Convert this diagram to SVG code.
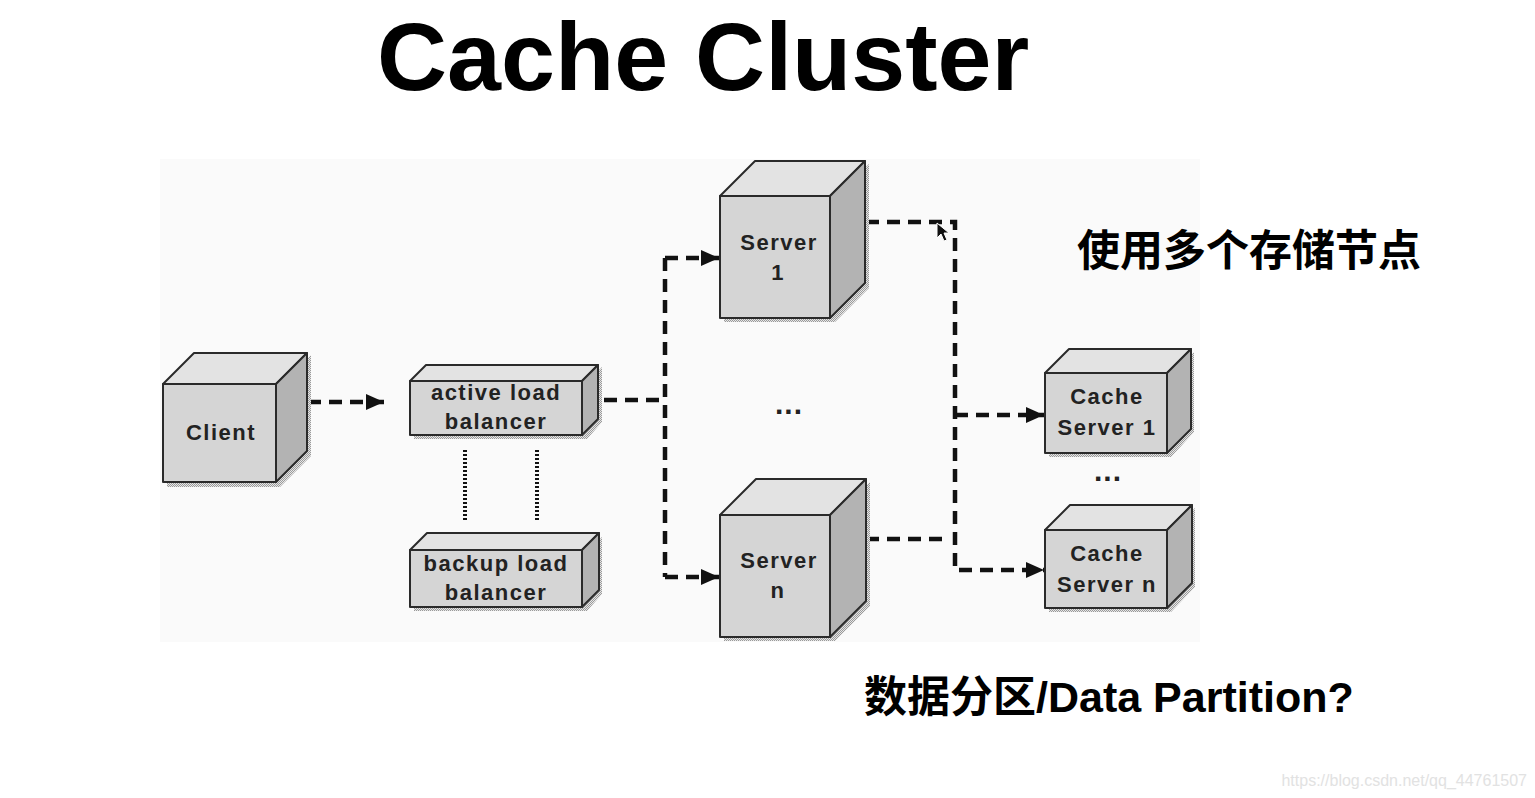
<svg xmlns="http://www.w3.org/2000/svg" width="1535" height="798" viewBox="0 0 1535 798">
<defs>
<pattern id="stip" width="2" height="2" patternUnits="userSpaceOnUse"><rect width="2" height="2" fill="#e6e6e6"/><rect width="1" height="1" fill="#9a9a9a"/><rect x="1" y="1" width="1" height="1" fill="#9a9a9a"/></pattern>
<marker id="ah" markerUnits="userSpaceOnUse" markerWidth="18" markerHeight="18" viewBox="0 0 18 18" refX="18" refY="9" orient="auto"><path d="M0,1 L18,9 L0,17 Z" fill="#111"/></marker>
<style>
.front{fill:#d5d5d5;stroke:#2a2a2a;stroke-width:2;stroke-linejoin:round}
.top{fill:#e3e3e3;stroke:#2a2a2a;stroke-width:2;stroke-linejoin:round}
.right{fill:#b3b3b3;stroke:#2a2a2a;stroke-width:2;stroke-linejoin:round}
.shadow{fill:url(#stip)}
.lbl{font-family:"Liberation Sans",Arial,sans-serif;font-weight:700;font-size:22px;fill:#222;text-anchor:middle;letter-spacing:1.5px}
.ell{font-family:"Liberation Sans",Arial,sans-serif;font-weight:700;font-size:30px;fill:#222;text-anchor:middle;letter-spacing:1px}
.dash{fill:none;stroke:#111;stroke-width:4.5;stroke-dasharray:13 8}
.dot{fill:none;stroke:#111;stroke-width:4;stroke-dasharray:2 2}
.big{font-family:"Liberation Sans","Noto Sans CJK SC",sans-serif;font-weight:700;fill:#000}
</style>
</defs>
<rect x="0" y="0" width="1535" height="798" fill="#ffffff"/>
<rect x="160" y="159" width="1040" height="483" fill="#fafafa"/>
<text class="big" x="377" y="90" font-size="97">Cache Cluster</text>
<text class="big" x="1077" y="266" font-size="43">使用多个存储节点</text>
<text class="big" x="864" y="712" font-size="43">数据分区/Data Partition?</text>
<text x="1527" y="786" font-family="Liberation Sans,Arial,sans-serif" font-size="16" fill="#e2e2e2" text-anchor="end">https://blog.csdn.net/qq_44761507</text>

<g id="connectors">
<path class="dash" d="M308,402 H384" marker-end="url(#ah)"/>
<path class="dash" d="M583,400 H665"/>
<path class="dash" d="M665,258 V577"/>
<path class="dash" d="M665,258 H719" marker-end="url(#ah)"/>
<path class="dash" d="M665,577 H719" marker-end="url(#ah)"/>
<path class="dot" d="M465,450 V522"/>
<path class="dot" d="M537,450 V522"/>
<path class="dash" d="M866,222 H955 V570 H1044" marker-end="url(#ah)"/>
<path class="dash" d="M866,539 H950"/>
<path class="dash" d="M955,415 H1044" marker-end="url(#ah)"/>
</g>

<g id="client">
<polygon class="shadow" points="277,389 311,355 311,456 280,487 167,487 167,483 276,483"/>
<rect class="front" x="163" y="384" width="113" height="98"/>
<polygon class="top" points="163,384 194,353 307,353 276,384"/>
<polygon class="right" points="276,384 307,353 307,451 276,482"/>
<text class="lbl" x="221" y="440">Client</text>
</g>

<g id="active-lb">
<polygon class="shadow" points="583,386 602,367 602,422 587,439 414,439 414,436 582,436"/>
<rect class="front" x="410" y="381" width="172" height="54"/>
<polygon class="top" points="410,381 426,365 598,365 582,381"/>
<polygon class="right" points="582,381 598,365 598,419 582,435"/>
<text class="lbl" x="496" y="400">active load</text>
<text class="lbl" x="496" y="429">balancer</text>
</g>

<g id="backup-lb">
<polygon class="shadow" points="583,555 602,537 602,594 587,611 414,611 414,608 582,608"/>
<rect class="front" x="410" y="550" width="172" height="57"/>
<polygon class="top" points="410,550 427,533 599,533 582,550"/>
<polygon class="right" points="582,550 599,533 599,590 582,607"/>
<text class="lbl" x="496" y="571">backup load</text>
<text class="lbl" x="496" y="600">balancer</text>
</g>

<g id="server-1">
<polygon class="shadow" points="831,200 869,164 869,288 835,322 724,322 724,319 830,319"/>
<rect class="front" x="720" y="196" width="110" height="122"/>
<polygon class="top" points="720,196 755,161 865,161 830,196"/>
<polygon class="right" points="830,196 865,161 865,283 830,318"/>
<text class="lbl" x="779" y="250">Server</text>
<text class="lbl" x="778" y="280">1</text>
</g>

<g id="ellipsis-servers"><text class="ell" x="789" y="414">...</text></g>

<g id="server-n">
<polygon class="shadow" points="831,519 870,482 870,606 835,641 724,641 724,638 830,638"/>
<rect class="front" x="720" y="515" width="110" height="122"/>
<polygon class="top" points="720,515 756,479 866,479 830,515"/>
<polygon class="right" points="830,515 866,479 866,601 830,637"/>
<text class="lbl" x="779" y="568">Server</text>
<text class="lbl" x="778" y="598">n</text>
</g>

<g id="cache-server-1">
<polygon class="shadow" points="1168,377 1194,352 1194,432 1171,457 1049,457 1049,454 1167,454"/>
<rect class="front" x="1045" y="373" width="122" height="80"/>
<polygon class="top" points="1045,373 1069,349 1191,349 1167,373"/>
<polygon class="right" points="1167,373 1191,349 1191,429 1167,453"/>
<text class="lbl" x="1107" y="404">Cache</text>
<text class="lbl" x="1107" y="435">Server 1</text>
</g>

<g id="ellipsis-cache"><text class="ell" x="1108" y="481">...</text></g>

<g id="cache-server-n">
<polygon class="shadow" points="1168,534 1195,508 1195,587 1171,612 1049,612 1049,609 1167,609"/>
<rect class="front" x="1045" y="530" width="122" height="78"/>
<polygon class="top" points="1045,530 1070,505 1192,505 1167,530"/>
<polygon class="right" points="1167,530 1192,505 1192,583 1167,608"/>
<text class="lbl" x="1107" y="561">Cache</text>
<text class="lbl" x="1107" y="592">Server n</text>
</g>

<g id="cursor"><polygon points="937,223 937,238 941,234 944,241 947,240 944,233 949,233" fill="#111" stroke="#fff" stroke-width="1"/></g>
</svg>
